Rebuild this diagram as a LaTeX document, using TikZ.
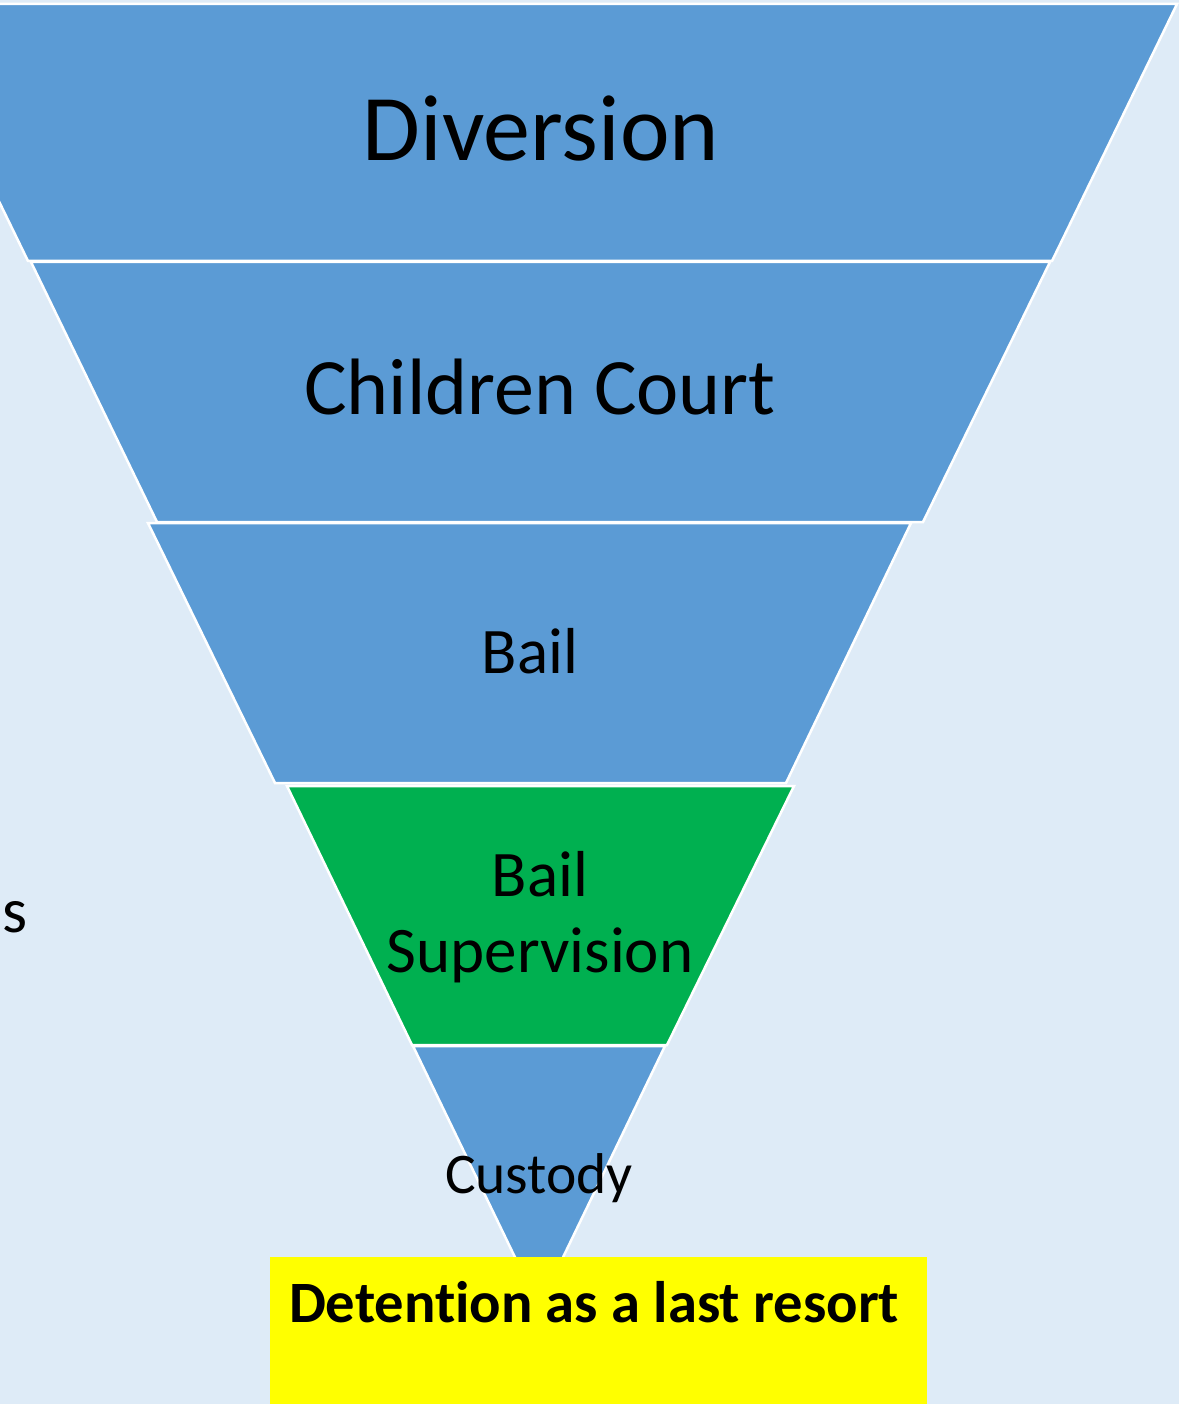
\documentclass[tikz,border=0pt]{standalone}
\usepackage{fontspec}
\setmainfont{Carlito}[Ligatures={NoCommon,NoContextual}]
\definecolor{bgblue}{HTML}{DEEBF7}
\definecolor{funblue}{HTML}{5B9BD5}
\definecolor{fungreen}{HTML}{00B050}
\definecolor{boxyellow}{HTML}{FFFF00}
\tikzset{
  layer/.style={draw=white, line width=2.5pt, line join=miter},
  lbl/.style={text=black, inner sep=0pt, anchor=base},
}
\begin{document}
\begin{tikzpicture}[x=1pt,y=-1pt]
\useasboundingbox (0,0) rectangle (1179,1404);
\fill[bgblue] (0,0) rectangle (1179,1404);
% funnel layers
\path[layer, fill=funblue] (-97,4) -- (1177,4) -- (1052,261) -- (28,261) -- cycle;
\path[layer, fill=funblue] (31,262) -- (1050,262) -- (923,522) -- (157,522) -- cycle;
\path[layer, fill=funblue] (148,523) -- (911,523) -- (786,783) -- (275,783) -- cycle;
\path[layer, fill=fungreen] (287,786) -- (794,786) -- (667,1045) -- (412,1045) -- cycle;
\path[layer, fill=funblue] (413,1046) -- (665,1046) -- (539,1307) -- cycle;
% yellow box
\fill[boxyellow] (270,1257) rectangle (927,1410);
% labels
\node[lbl, font=\fontsize{94}{113}\selectfont] (nDiv) at (541,161) {Diversion};
\node[lbl, font=\fontsize{80}{96}\selectfont] (nCC) at (540,414) {Children Court};
\node[lbl, font=\fontsize{65}{78}\selectfont] (nBail) at (530,673) {Bail};
\node[lbl, font=\fontsize{65}{76}\selectfont, align=center] (nSup) at (540,972) {Bail\\Supervision};
\node[lbl, font=\fontsize{57.5}{69}\selectfont] (nCus) at (539,1193) {Custody};
\node[lbl, font=\fontsize{58.6}{70}\selectfont\bfseries] (nDet) at (594,1322) {Detention as a last resort};
\node[lbl, font=\fontsize{64}{77}\selectfont, anchor=base west] (nS) at (2,932) {s};
\end{tikzpicture}
\end{document}
